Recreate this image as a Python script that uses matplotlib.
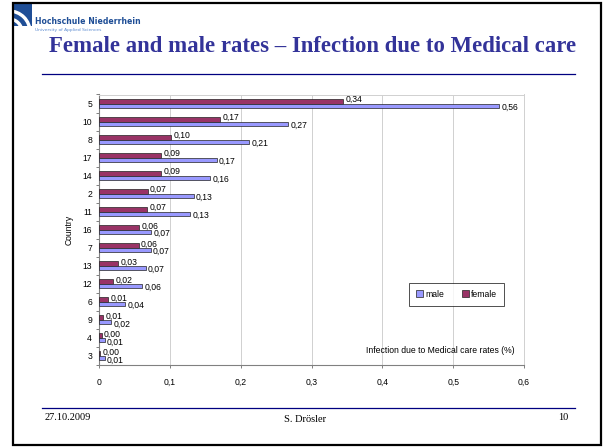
import matplotlib
matplotlib.use('Agg')
import matplotlib.pyplot as plt
import numpy as np
from matplotlib.patches import Rectangle, Wedge

countries = ['5', '10', '8', '17', '14', '2', '11', '16', '7', '13', '12', '6', '9', '4', '3']
female = [0.345, 0.171, 0.102, 0.088, 0.088, 0.069, 0.068, 0.057, 0.056, 0.027, 0.020, 0.013, 0.006, 0.004, 0.002]
male = [0.565, 0.267, 0.212, 0.166, 0.157, 0.134, 0.129, 0.074, 0.073, 0.066, 0.061, 0.037, 0.017, 0.008, 0.008]
female_labels = ['0,34', '0,17', '0,10', '0,09', '0,09', '0,07', '0,07', '0,06', '0,06', '0,03', '0,02', '0,01', '0,01', '0,00', '0,00']
male_labels = ['0,56', '0,27', '0,21', '0,17', '0,16', '0,13', '0,13', '0,07', '0,07', '0,07', '0,06', '0,04', '0,02', '0,01', '0,01']
xticks = [0, 0.1, 0.2, 0.3, 0.4, 0.5, 0.6]
xtick_labels = ['0', '0,1', '0,2', '0,3', '0,4', '0,5', '0,6']

W, H = 603, 447
fs = 6.2
fig = plt.figure(figsize=(W / 100, H / 100), dpi=100)
fig.patch.set_facecolor('white')

def fx(px):
    return px / W

def fy(py):
    return 1 - py / H

# slide frame
fig.add_artist(Rectangle((fx(13), fy(445)), fx(601) - fx(13), fy(3) - fy(445),
                         transform=fig.transFigure, fill=False, edgecolor='black', linewidth=1.6))

# logo
logo_ax = fig.add_axes([fx(13), fy(26), fx(32) - fx(13), fy(3) - fy(26)])
logo_ax.set_xlim(0, 19)
logo_ax.set_ylim(0, 23)
logo_ax.axis('off')
logo_ax.add_patch(Rectangle((0, 0), 19, 23, color='#1f4e96'))
for r, w in [(14, 2.0), (22, 2.0)]:
    logo_ax.add_patch(Wedge((-4, -6), r, 0, 90, width=w, color='white'))

fig.text(fx(35), fy(21), 'Hochschule Niederrhein', fontsize=5.6, fontweight='bold',
         color='#1f4e96', family='DejaVu Sans', va='center', ha='left')
fig.text(fx(35), fy(30), 'University of Applied Sciences', fontsize=3.2,
         color='#5a8ad0', family='DejaVu Sans', va='center', ha='left')

# title
fig.text(fx(313), fy(47), 'Female and male rates \u2013 Infection due to Medical care',
         fontsize=16.4, fontweight='bold', color='#333399', family='Liberation Serif',
         ha='center', va='center')
fig.add_artist(plt.Line2D([fx(42), fx(575)], [fy(74), fy(74)], transform=fig.transFigure,
                          color='#000080', linewidth=0.9))
fig.add_artist(plt.Line2D([fx(42), fx(575)], [fy(408), fy(408)], transform=fig.transFigure,
                          color='#000080', linewidth=0.9))

# footer
fig.text(fx(45), fy(417), '27.10.2009', fontsize=7.5, family='Liberation Serif', va='center', ha='left')
fig.text(fx(305), fy(420), 'S. Dr\u00f6sler', fontsize=7.5, family='Liberation Serif', va='center', ha='center')
fig.text(fx(568), fy(417), '10', fontsize=7.5, family='Liberation Serif', va='center', ha='right')

# chart
ax = fig.add_axes([fx(99), fy(365), fx(524) - fx(99), fy(94.5) - fy(365)])
y = np.arange(len(countries))
bh = 0.25
ax.barh(y - bh / 2, female, height=bh, color='#993366', edgecolor='#222222', linewidth=0.5,
        label='female', zorder=3)
ax.barh(y + bh / 2, male, height=bh, color='#9999ff', edgecolor='#222222', linewidth=0.5,
        label='male', zorder=3)

for i in range(len(countries)):
    ax.annotate(female_labels[i], (female[i], y[i] - bh / 2), xytext=(1.5, 1.2),
                textcoords='offset points', fontsize=fs, va='center', ha='left',
                family='Liberation Sans')
    ax.annotate(male_labels[i], (male[i], y[i] + bh / 2), xytext=(1.5, -1.2),
                textcoords='offset points', fontsize=fs, va='center', ha='left',
                family='Liberation Sans')

ax.set_xlim(0, 0.6)
ax.set_ylim(len(countries) - 0.5, -0.5)
ax.set_xticks(xticks)
ax.set_xticklabels(xtick_labels, fontsize=fs, family='Liberation Sans')
ax.set_yticks(y)
ax.set_yticklabels(countries, fontsize=fs, family='Liberation Sans')
ax.set_yticks(np.arange(len(countries) + 1) - 0.5, minor=True)
ax.tick_params(axis='y', which='major', length=0, pad=5)
ax.tick_params(axis='y', which='minor', length=2.5, direction='out', color='#808080', width=0.7)
ax.tick_params(axis='x', which='major', length=2.5, direction='out', color='#808080', width=0.7, pad=7)
ax.grid(axis='x', color='#d0d0d0', linewidth=0.7, zorder=0)
for side in ['left', 'bottom']:
    ax.spines[side].set_color('#808080')
    ax.spines[side].set_linewidth(0.8)
for side in ['top', 'right']:
    ax.spines[side].set_color('#d0d0d0')
    ax.spines[side].set_linewidth(0.7)

ax.set_ylabel('Country', fontsize=fs, family='Liberation Sans', labelpad=6)
ax.text(0.979, 0.055, 'Infection due to Medical care rates (%)', transform=ax.transAxes,
        fontsize=fs, family='Liberation Sans', ha='right', va='center')

handles, labels = ax.get_legend_handles_labels()
leg = ax.legend([handles[1], handles[0]], [labels[1], labels[0]], ncol=2, loc='center',
                bbox_to_anchor=(0.842, 0.262), frameon=True, fancybox=False,
                edgecolor='black', handlelength=0.8, handleheight=0.8, handletextpad=0.3,
                columnspacing=2.0, borderpad=0.8, prop={'family': 'Liberation Sans', 'size': fs})
leg.get_frame().set_linewidth(0.6)

fig.savefig('out.png', dpi=100)
